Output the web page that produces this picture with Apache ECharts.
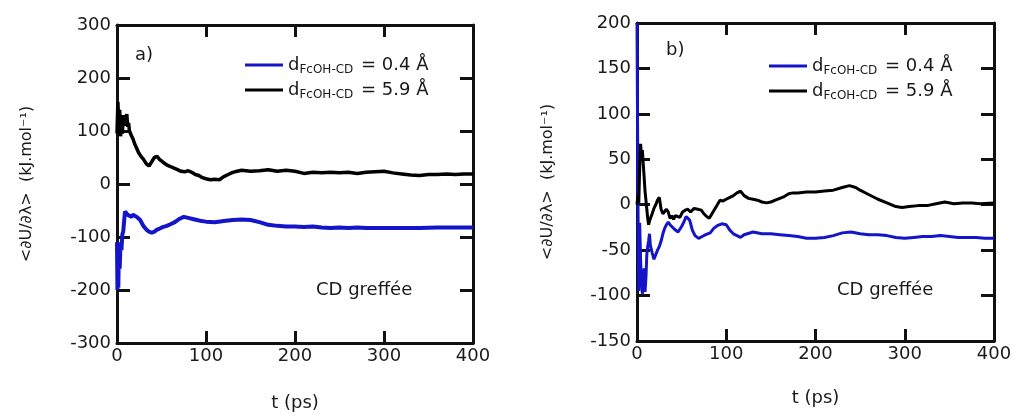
<!DOCTYPE html>
<html>
<head>
<meta charset="utf-8">
<script src="https://cdn.jsdelivr.net/npm/echarts@6/dist/echarts.min.js"></script>
<style>html,body{margin:0;padding:0;background:#fff;}#c{width:1012px;height:412px;}</style>
</head>
<body>
<div id="c"></div>
<script>
// ---- Data ----
const seriesNames = ['dFcOH-CD = 0.4 Å', 'dFcOH-CD = 5.9 Å'];
const subText = 'FcOH-CD';
const distances = ['0.4', '5.9'];
const xTicks = [0, 100, 200, 300, 400];
const panelLabels = ['a)', 'b)'];
const noteText = 'CD greffée';
const yName = '<∂U/∂λ>  (kJ.mol⁻¹)';
const xName = 't (ps)';

// Panel a) : 0.4 Å (blue)
const tBlueA = [0,0.5,1,1.5,2,3,4,5,6,7,8,9,10,12,14,16,18,20,22,24,26,28,30,33,36,39,42,45,48,52,56,60,65,70,75,80,85,90,95,100,110,120,130,140,150,160,170,180,190,200,210,220,230,240,250,260,270,280,290,300,320,340,360,380,400];
const vBlueA = [-110,-200,-150,-195,-130,-160,-110,-125,-95,-90,-70,-52,-50,-58,-55,-62,-58,-60,-62,-64,-68,-74,-80,-86,-90,-92,-90,-86,-84,-81,-79,-76,-72,-66,-62,-64,-66,-68,-70,-71,-72,-70,-68,-67,-68,-72,-77,-79,-80,-80,-81,-80,-82,-83,-82,-83,-82,-83,-83,-83,-83,-83,-82,-82,-82];
// Panel a) : 5.9 Å (black)
const tBlackA = [0,1,2,3,4,5,6,7,8,9,10,11,12,13,14,16,18,20,22,24,27,30,33,36,39,42,45,48,51,54,57,60,64,68,72,76,80,84,88,92,96,100,105,110,115,120,125,130,135,140,150,160,170,180,190,200,210,220,230,240,250,260,270,280,290,300,310,320,330,340,350,360,370,380,390,400];
const vBlackA = [95,155,110,140,90,120,95,130,110,125,118,132,108,115,100,92,85,75,68,60,52,46,38,34,42,50,52,46,42,38,35,33,30,27,24,23,25,22,18,16,12,10,8,9,8,14,18,22,24,26,24,25,27,24,26,24,20,22,21,22,21,22,20,22,23,24,21,19,17,16,18,18,19,18,19,19];

// Panel b) : 0.4 Å (blue)
const tBlueB = [0,0.5,1,1.5,2,2.5,3,4,5,6,7,8,9,10,11,12,13,14,15,17,19,21,23,25,27,29,31,33,35,37,39,42,46,50,53,55,57,59,62,65,69,73,77,82,86,90,95,100,104,108,112,116,120,130,140,150,160,170,180,190,200,210,220,230,240,250,260,270,280,290,300,310,320,330,340,350,360,370,380,390,400];
const vBlueB = [200,110,20,-60,-95,-40,-20,-60,-85,-98,-90,-70,-96,-80,-55,-46,-40,-32,-45,-53,-60,-58,-50,-46,-40,-32,-26,-22,-19,-22,-24,-27,-30,-24,-18,-13,-11,-17,-28,-34,-37,-35,-33,-31,-26,-23,-21,-22,-28,-32,-34,-36,-33,-30,-32,-32,-33,-34,-35,-37,-37,-36,-34,-31,-30,-32,-33,-33,-34,-36,-37,-36,-35,-35,-34,-35,-36,-36,-36,-37,-37];
// Panel b) : 5.9 Å (black)
const tBlackB = [0,1,2,3,4,5,6,7,8,9,10,11,12,13,14,15,17,19,21,23,25,27,29,31,33,35,37,39,41,43,45,48,51,54,57,60,64,68,72,75,78,81,84,87,90,93,96,100,104,108,112,116,120,125,130,135,140,145,150,155,160,165,170,175,180,190,200,210,220,230,238,245,250,260,270,280,290,297,305,315,325,335,345,355,365,375,385,400];
const vBlackB = [0,10,2,40,67,55,60,45,30,15,5,-5,-15,-22,-18,-20,-10,-4,0,5,8,-5,-10,-12,-5,-8,-15,-12,-16,-12,-10,-14,-8,-6,-5,-8,-4,-5,-6,-10,-13,-15,-10,-5,0,5,4,6,8,10,13,15,10,7,6,5,3,2,3,5,7,9,12,13,13,14,14,15,16,19,21,19,16,11,6,2,-2,-3,-2,-1,-1,1,3,1,2,2,1,2];

function pairs(t, v) { return t.map((x, i) => [x, v[i]]); }

// ---- Styling ----
const FONT = 'DejaVu Sans';
const TXT = '#1a1a1a';
const FRAME = '#111';
const BLUE = '#1414c8';
const BLACK = '#000';
const FS = 18;

const grids = [
  { left: 117, top: 25, width: 356, height: 318, outerBoundsMode: 'none', containLabel: false },
  { left: 637, top: 23, width: 357, height: 318, outerBoundsMode: 'none', containLabel: false }
];
const yRanges = [ { min: -300, max: 300, interval: 100 }, { min: -150, max: 200, interval: 50 } ];

function mainX(gi, gap) {
  return {
    type: 'value', gridIndex: gi, min: 0, max: 400, interval: 100, position: 'bottom',
    name: xName, nameLocation: 'middle', nameGap: gap,
    nameTextStyle: { fontFamily: FONT, fontSize: FS, color: TXT },
    axisLine: { show: true, onZero: false, lineStyle: { color: FRAME, width: 3 } },
    axisTick: { show: true, inside: true, length: 12, lineStyle: { color: FRAME, width: 3 } },
    axisLabel: { show: true, margin: 4, fontFamily: FONT, fontSize: FS, color: TXT },
    splitLine: { show: false }
  };
}
function topX(gi) {
  return {
    type: 'value', gridIndex: gi, min: 0, max: 400, interval: 100, position: 'top',
    axisLine: { show: true, onZero: false, lineStyle: { color: FRAME, width: 3 } },
    axisTick: { show: true, inside: true, length: 12, lineStyle: { color: FRAME, width: 3 } },
    axisLabel: { show: false }, splitLine: { show: false }
  };
}
function mainY(gi, gap) {
  const r = yRanges[gi];
  return {
    type: 'value', gridIndex: gi, min: r.min, max: r.max, interval: r.interval, position: 'left',
    name: yName, nameLocation: 'middle', nameGap: gap, nameRotate: 90,
    nameTextStyle: { fontFamily: FONT, fontSize: 16, color: TXT },
    axisLine: { show: true, onZero: false, lineStyle: { color: FRAME, width: 3 } },
    axisTick: { show: true, inside: true, length: 13, lineStyle: { color: FRAME, width: 3 } },
    axisLabel: { show: true, margin: 6, fontFamily: FONT, fontSize: FS, color: TXT },
    splitLine: { show: false }
  };
}
function rightY(gi) {
  const r = yRanges[gi];
  return {
    type: 'value', gridIndex: gi, min: r.min, max: r.max, interval: r.interval, position: 'right',
    axisLine: { show: true, onZero: false, lineStyle: { color: FRAME, width: 3 } },
    axisTick: { show: true, inside: true, length: 13, lineStyle: { color: FRAME, width: 3 } },
    axisLabel: { show: false }, splitLine: { show: false }
  };
}

function legendFmt(name) {
  const i = seriesNames.indexOf(name);
  return '{m|d}{s|' + subText + '}{m| = ' + distances[i] + ' Å}';
}
const legendRich = {
  m: { fontFamily: FONT, fontSize: FS, color: TXT, lineHeight: 22, verticalAlign: 'middle' },
  s: { fontFamily: FONT, fontSize: 12, color: TXT, lineHeight: 8, verticalAlign: 'bottom', padding: [0, 2, 0, 0] }
};
function legendAt(left, top) {
  return {
    left: left, top: top, orient: 'vertical', icon: 'rect', itemWidth: 38, itemHeight: 3,
    itemGap: 5, padding: 0, data: seriesNames, selectedMode: false,
    formatter: legendFmt, textStyle: { rich: legendRich, fontFamily: FONT, fontSize: FS, color: TXT }
  };
}

function line(name, color, width, xi, yi, data) {
  return {
    type: 'line', name: name, xAxisIndex: xi, yAxisIndex: yi, data: data,
    showSymbol: false, symbol: 'none', smooth: false,
    lineStyle: { color: color, width: width }, itemStyle: { color: color },
    emphasis: { disabled: true }, clip: true
  };
}

const chart = echarts.init(document.getElementById('c'), null, { renderer: 'canvas' });
chart.setOption({
  animation: false,
  backgroundColor: '#fff',
  grid: grids,
  xAxis: [ mainX(0, 51), topX(0), mainX(1, 48), topX(1) ],
  yAxis: [ mainY(0, 82), rightY(0), mainY(1, 81), rightY(1) ],
  legend: [ legendAt(245, 56), legendAt(769, 57) ],
  series: [
    line(seriesNames[0], BLUE, 4, 0, 0, pairs(tBlueA, vBlueA)),
    line(seriesNames[1], BLACK, 3.5, 0, 0, pairs(tBlackA, vBlackA)),
    line(seriesNames[0], BLUE, 3, 2, 2, pairs(tBlueB, vBlueB)),
    line(seriesNames[1], BLACK, 3, 2, 2, pairs(tBlackB, vBlackB))
  ],
  graphic: [
    { type: 'text', left: 135, top: 46, style: { text: panelLabels[0], font: FS + 'px "DejaVu Sans"', fill: TXT } },
    { type: 'text', left: 666, top: 41, style: { text: panelLabels[1], font: FS + 'px "DejaVu Sans"', fill: TXT } },
    { type: 'text', left: 316, top: 281, style: { text: noteText, font: FS + 'px "DejaVu Sans"', fill: TXT } },
    { type: 'text', left: 837, top: 281, style: { text: noteText, font: FS + 'px "DejaVu Sans"', fill: TXT } }
  ]
});
</script>
</body>
</html>
